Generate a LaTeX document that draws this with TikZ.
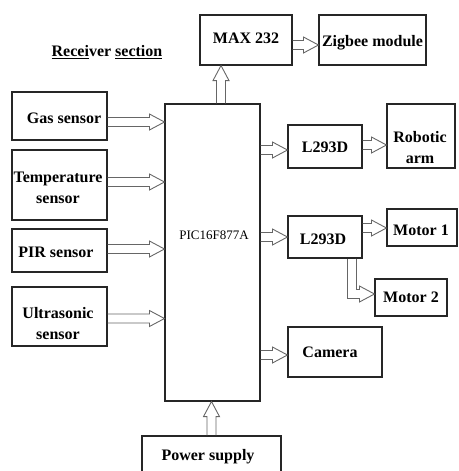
\documentclass[tikz,border=0pt]{standalone}
\usepackage{fontspec}
\setmainfont{Liberation Serif}
\usetikzlibrary{calc}
\begin{document}
\begin{tikzpicture}[x=1pt,y=-1pt,
  blk/.style={draw=black!85,line width=1.1pt,rectangle,inner sep=0pt},
  lbl/.style={inner sep=0pt,align=center,font=\fontsize{16}{21}\selectfont\bfseries},
  harrow/.style={draw=black!60,line width=0.9pt,line join=miter,
    to path={
      ($(\tikztostart)!4.5pt!90:(\tikztotarget)$)
      -- ($($(\tikztotarget)!15pt!(\tikztostart)$)!4.5pt!90:(\tikztotarget)$)
      -- ($($(\tikztotarget)!15pt!(\tikztostart)$)!8pt!90:(\tikztotarget)$)
      -- (\tikztotarget)
      -- ($($(\tikztotarget)!15pt!(\tikztostart)$)!8pt!-90:(\tikztotarget)$)
      -- ($($(\tikztotarget)!15pt!(\tikztostart)$)!4.5pt!-90:(\tikztotarget)$)
      -- ($(\tikztostart)!4.5pt!-90:(\tikztotarget)$)
    }},
  hshaft/.style={draw=black!60,line width=0.9pt,double=white,double distance=8.1pt,line join=miter}]
\useasboundingbox (0,0) rectangle (458,471);
% boxes
\node[blk,minimum width=95pt,minimum height=48pt] (gas) at (59.5,116) {};
\node[lbl] (gast) at (64,118) {Gas sensor};
\node[blk,minimum width=95pt,minimum height=70pt] (temp) at (59.5,185) {};
\node[lbl] (tempt) at (58,187.5) {Temperature\\sensor};
\node[blk,minimum width=95pt,minimum height=43pt] (pir) at (59.5,250.5) {};
\node[lbl] (pirt) at (56,252) {PIR sensor};
\node[blk,minimum width=95pt,minimum height=59pt] (ultra) at (59.5,316.5) {};
\node[lbl] (ultrat) at (58,324) {Ultrasonic\\sensor};
\node[blk,minimum width=95pt,minimum height=297pt] (pic) at (212.5,252.5) {};
\node[lbl,font=\fontsize{13}{15}\selectfont] (pict) at (214,235) {PIC16F877A};
\node[blk,minimum width=92pt,minimum height=50pt] (max) at (246,40) {};
\node[lbl] (maxt) at (246,38) {MAX 232};
\node[blk,minimum width=107pt,minimum height=50pt] (zig) at (372.5,40) {};
\node[lbl] (zigt) at (372.5,43) {Zigbee module};
\node[blk,minimum width=74pt,minimum height=43pt] (l1) at (325,146.5) {};
\node[lbl] (l1t) at (325,147.5) {L293D};
\node[blk,minimum width=68pt,minimum height=64pt] (arm) at (421,136) {};
\node[lbl] (armt) at (420,147.5) {Robotic\\arm};
\node[blk,minimum width=74pt,minimum height=42pt] (l2) at (325,237) {};
\node[lbl] (l2t) at (323,239) {L293D};
\node[blk,minimum width=70pt,minimum height=37pt] (m1) at (422,227.5) {};
\node[lbl] (m1t) at (421,230) {Motor 1};
\node[blk,minimum width=72pt,minimum height=37pt] (m2) at (411,297.5) {};
\node[lbl] (m2t) at (411,297) {Motor 2};
\node[blk,minimum width=94pt,minimum height=50pt] (cam) at (335,352) {};
\node[lbl] (camt) at (330,352) {Camera};
\node[blk,minimum width=139pt,minimum height=36pt] (pow) at (211.5,454) {};
\node[lbl] (powt) at (208,457) {Power supply};
\node[lbl] (rec) at (107,52) {\underline{Recei}ver \underline{section}};
% connector end points
\coordinate (gs) at ([yshift=-6pt]gas.east);
\coordinate (ge) at (gs -| pic.west);
\coordinate (ts) at ([yshift=3pt]temp.east);
\coordinate (te) at (ts -| pic.west);
\coordinate (ps) at ([yshift=1.5pt]pir.east);
\coordinate (pe) at (ps -| pic.west);
\coordinate (us) at ([yshift=-2pt]ultra.east);
\coordinate (ue) at (us -| pic.west);
\coordinate (xs) at ([xshift=8.5pt]pic.north);
\coordinate (xe) at (xs |- max.south);
\coordinate (zs) at ([yshift=-5pt]max.east);
\coordinate (ze) at (zs -| zig.west);
\coordinate (ae) at ([yshift=-3.5pt]l1.west);
\coordinate (as) at (ae -| pic.east);
\coordinate (rs) at ([yshift=1.5pt]l1.east);
\coordinate (re) at (rs -| arm.west);
\coordinate (bs) at (l2.west -| pic.east);
\coordinate (ms) at ([yshift=9pt]l2.east);
\coordinate (me) at (ms -| m1.west);
\coordinate (ks) at ([xshift=27pt]l2.south);
\coordinate (ke) at ([yshift=3.5pt]m2.west);
\coordinate (kc) at ($(ks |- ke)+(5,0)$);
\coordinate (ce) at ([yshift=-3pt]cam.west);
\coordinate (cs) at (ce -| pic.east);
\coordinate (ws) at (pow.north);
\coordinate (we) at (ws |- pic.south);
% arrows
\draw[harrow] (gs) to (ge);
\draw[harrow] (ts) to (te);
\draw[harrow] (ps) to (pe);
\draw[harrow] (us) to (ue);
\draw[harrow] (xs) to (xe);
\draw[harrow] (zs) to (ze);
\draw[harrow] (as) to (ae);
\draw[harrow] (rs) to (re);
\draw[harrow] (bs) to (l2.west);
\draw[harrow] (ms) to (me);
\draw[hshaft] (ks) |- (kc);
\draw[harrow] (kc) to (ke);
\draw[harrow] (cs) to (ce);
\draw[harrow] (ws) to (we);
\end{tikzpicture}
\end{document}
